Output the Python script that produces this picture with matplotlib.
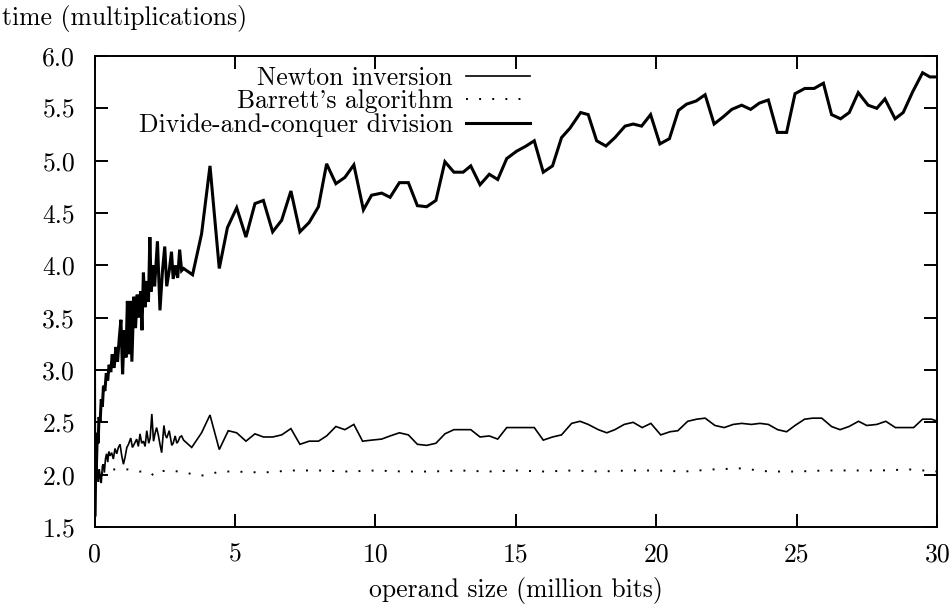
import matplotlib
matplotlib.use("Agg")
import matplotlib.pyplot as plt
from matplotlib.ticker import FormatStrFormatter, FixedLocator

plt.rcParams['font.family'] = ['cmr10', 'DejaVu Serif']
plt.rcParams['mathtext.fontset'] = 'cm'
plt.rcParams['axes.formatter.use_mathtext'] = True

# ---------------- data ----------------
dc_x = [0.00, 0.01, 0.03, 0.05, 0.07, 0.10, 0.13, 0.16, 0.20, 0.24, 0.28, 0.32, 0.37, 0.42,
        0.47, 0.52, 0.58, 0.63, 0.70, 0.76, 0.82, 0.88, 0.94, 1.00, 1.06, 1.12, 1.17, 1.22,
        1.28, 1.33, 1.40, 1.46, 1.52, 1.58, 1.64, 1.69, 1.74, 1.80, 1.86, 1.92, 1.97, 2.02,
        2.08, 2.14, 2.24, 2.33, 2.42, 2.50, 2.57, 2.66, 2.74, 2.80, 2.88, 2.96, 3.03, 3.10,
        3.17, 3.49, 3.81,
        4.11, 4.44, 4.73, 5.06, 5.39, 5.71, 6.01, 6.34, 6.66, 6.99, 7.31, 7.64, 7.97, 8.26,
        8.59, 8.91, 9.23, 9.57, 9.86, 10.22, 10.52, 10.85, 11.17, 11.49, 11.82, 12.15, 12.47,
        12.79, 13.12, 13.39, 13.72, 14.05, 14.35, 14.67, 15.02, 15.36, 15.65, 15.97, 16.30,
        16.62, 16.92, 17.30, 17.57, 17.87, 18.20, 18.52, 18.88, 19.17, 19.47, 19.79, 20.12,
        20.46, 20.78, 21.07, 21.41, 21.73, 22.05, 22.38, 22.68, 23.03, 23.35, 23.66, 23.98,
        24.30, 24.63, 24.93, 25.28, 25.61, 25.94, 26.23, 26.55, 26.86, 27.18, 27.53, 27.84,
        28.13, 28.49, 28.78, 29.12, 29.47, 29.73, 30.00]
dc_y = [3.10, 1.60, 2.00, 2.25, 2.10, 2.40, 2.30, 2.55, 2.50, 2.72, 2.65, 2.85, 2.80, 2.97,
        2.90, 3.05, 2.98, 3.15, 3.02, 3.22, 3.08, 3.30, 3.48, 2.96, 3.38, 3.12, 3.66, 3.15,
        3.66, 3.08, 3.70, 3.40, 3.72, 3.50, 3.75, 3.38, 3.93, 3.60, 3.85, 3.65, 4.27, 3.75,
        4.00, 3.80, 4.23, 3.57, 3.95, 4.18, 3.80, 3.95, 4.13, 3.87, 4.00, 3.88, 4.15, 3.95,
        3.97, 3.91, 4.30,
        4.95, 3.97, 4.36, 4.55, 4.27, 4.59, 4.62, 4.32, 4.43, 4.71, 4.32, 4.41, 4.56, 4.97,
        4.78, 4.84, 4.96, 4.53, 4.67, 4.69, 4.65, 4.79, 4.79, 4.57, 4.56, 4.62, 4.99,
        4.89, 4.89, 4.95, 4.77, 4.87, 4.82, 5.02, 5.09, 5.14, 5.19, 4.89, 4.95,
        5.22, 5.31, 5.46, 5.44, 5.19, 5.14, 5.22, 5.33, 5.35, 5.33, 5.44, 5.16,
        5.21, 5.48, 5.54, 5.57, 5.63, 5.35, 5.42, 5.49, 5.53, 5.49, 5.55, 5.58,
        5.27, 5.27, 5.64, 5.69, 5.69, 5.74, 5.44, 5.40, 5.46, 5.65, 5.53, 5.50,
        5.59, 5.40, 5.46, 5.66, 5.84, 5.80, 5.80]

nw_x = [0.01, 0.03, 0.05, 0.08, 0.11, 0.14, 0.17, 0.20, 0.24, 0.28, 0.31, 0.35, 0.39, 0.43,
        0.47, 0.51, 0.55, 0.61, 0.67, 0.73, 0.79, 0.85, 0.91, 0.97, 1.03, 1.09, 1.15, 1.21,
        1.29, 1.35, 1.41, 1.50, 1.56, 1.62, 1.68, 1.74, 1.80, 1.86, 1.93, 1.98, 2.04, 2.10,
        2.16, 2.21, 2.27, 2.33, 2.39, 2.47, 2.52, 2.57, 2.66, 2.75, 2.80, 2.87, 2.93, 2.98,
        3.04, 3.10, 3.17, 3.46, 3.81,
        4.11, 4.44, 4.76, 5.06, 5.39, 5.71, 6.01, 6.34, 6.66, 6.99, 7.31, 7.64, 7.97, 8.26,
        8.59, 8.91, 9.23, 9.54, 9.86, 10.22, 10.52, 10.85, 11.17, 11.49, 11.82, 12.15, 12.47,
        12.79, 13.12, 13.39, 13.72, 14.05, 14.35, 14.67, 15.02, 15.36, 15.65, 15.97, 16.30,
        16.62, 16.98, 17.28, 17.57, 17.93, 18.23, 18.52, 18.85, 19.17, 19.49, 19.80, 20.15,
        20.48, 20.76, 21.11, 21.43, 21.73, 22.08, 22.41, 22.73, 23.03, 23.38, 23.68, 23.98,
        24.31, 24.63, 24.93, 25.27, 25.56, 25.88, 26.23, 26.53, 26.85, 27.19, 27.48, 27.84,
        28.16, 28.50, 28.83, 29.15, 29.47, 29.79, 30.00]
nw_y = [1.95, 2.05, 1.98, 2.13, 2.00, 1.93, 2.05, 1.98, 1.92, 2.08, 2.10, 2.02, 2.15, 2.20,
        2.12, 2.22, 2.18, 2.21, 2.15, 2.25, 2.20, 2.26, 2.29, 2.18, 2.10, 2.17, 2.26, 2.29,
        2.35, 2.26, 2.29, 2.34, 2.27, 2.39, 2.30, 2.32, 2.27, 2.42, 2.30, 2.35, 2.58, 2.32,
        2.40, 2.45, 2.38, 2.29, 2.21, 2.47, 2.38, 2.35, 2.42, 2.28, 2.30, 2.37, 2.30, 2.32,
        2.36, 2.37, 2.33, 2.26, 2.40,
        2.57, 2.24, 2.42, 2.40, 2.32, 2.39, 2.36, 2.36, 2.38, 2.44, 2.29, 2.32, 2.32, 2.37,
        2.46, 2.43, 2.48, 2.32, 2.33, 2.34, 2.37, 2.40, 2.38, 2.29, 2.28, 2.30, 2.39,
        2.43, 2.43, 2.43, 2.36, 2.37, 2.34, 2.45, 2.45, 2.45, 2.45, 2.33, 2.36,
        2.38, 2.49, 2.51, 2.48, 2.43, 2.40, 2.43, 2.48, 2.50, 2.45, 2.49, 2.38,
        2.41, 2.42, 2.51, 2.53, 2.54, 2.47, 2.45, 2.48, 2.49, 2.48, 2.49, 2.48,
        2.43, 2.41, 2.47, 2.53, 2.54, 2.54, 2.46, 2.43, 2.46, 2.51, 2.47, 2.48,
        2.51, 2.45, 2.45, 2.45, 2.53, 2.53, 2.51]

br_x = [0.03, 0.10, 0.20, 0.30, 0.45, 0.60, 0.80, 1.00, 1.20, 1.40, 1.60, 1.80, 2.00, 2.10,
        2.30, 2.60, 3.00, 3.40, 3.80, 4.50, 5.0, 6.0, 7.0, 8.0, 9.0, 10.0, 11.0, 12.0, 13.0,
        14.0, 15.0, 16.0, 17.0, 18.0, 19.0, 20.0, 21.0, 22.0, 23.0, 24.0, 25.0, 26.0, 27.0,
        28.0, 29.0, 30.0]
br_y = [1.90, 1.97, 2.00, 2.02, 2.04, 2.05, 2.05, 2.05, 2.05, 2.04, 2.03, 2.03, 2.02, 1.99,
        2.03, 2.04, 2.03, 2.01, 1.99, 2.03, 2.03, 2.02, 2.04, 2.04, 2.03, 2.04, 2.03, 2.03,
        2.04, 2.03, 2.04, 2.03, 2.04, 2.03, 2.04, 2.04, 2.03, 2.05, 2.06, 2.03, 2.03, 2.04,
        2.04, 2.04, 2.05, 2.03]

labels = ["Newton inversion", "Barrett's algorithm", "Divide-and-conquer division"]
x_ticks = [0, 5, 10, 15, 20, 25, 30]
y_ticks = [1.5, 2.0, 2.5, 3.0, 3.5, 4.0, 4.5, 5.0, 5.5, 6.0]

# ---------------- figure ----------------
W, H = 953, 605
fig = plt.figure(figsize=(W / 100, H / 100), dpi=100)
L, R, T, B = 94.5, 937.5, 56, 527
ax = fig.add_axes([L / W, 1 - B / H, (R - L) / W, (B - T) / H])

FS = 18.5
l1, = ax.plot(nw_x, nw_y, color='black', lw=1.2, solid_joinstyle='miter')
l2, = ax.plot(br_x, br_y, color='black', lw=1.4, linestyle=(0, (1, 5.75)),
              dash_capstyle='butt')
l3, = ax.plot(dc_x, dc_y, color='black', lw=2.2, solid_joinstyle='miter')

ax.set_xlim(0, 30)
ax.set_ylim(1.5, 6.0)
ax.xaxis.set_major_locator(FixedLocator(x_ticks))
ax.yaxis.set_major_locator(FixedLocator(y_ticks))
ax.yaxis.set_major_formatter(FormatStrFormatter('%.1f'))
ax.xaxis.set_major_formatter(FormatStrFormatter('%d'))
ax.tick_params(axis='both', which='major', direction='in', length=9.5, width=1.4,
               top=True, right=True, labelsize=FS, color='black')
ax.tick_params(axis='y', pad=14)
ax.tick_params(axis='x', pad=11)
for s in ax.spines.values():
    s.set_linewidth(1.4)

fig.text(2 / W, 1 - 25 / H, "time (multiplications)", fontsize=FS, ha='left', va='baseline')
fig.text(516 / W, 1 - 597 / H, "operand size (million bits)", fontsize=FS, ha='center',
         va='baseline')

leg = ax.legend([l1, l2, l3], labels, markerfirst=False, frameon=False, loc='upper right',
                bbox_to_anchor=(530 / W, 1 - 66 / H), bbox_transform=fig.transFigure,
                borderpad=0, borderaxespad=0, handlelength=2.5, handletextpad=0.5,
                labelspacing=0.0, fontsize=FS)

fig.savefig("out.png", dpi=100)
